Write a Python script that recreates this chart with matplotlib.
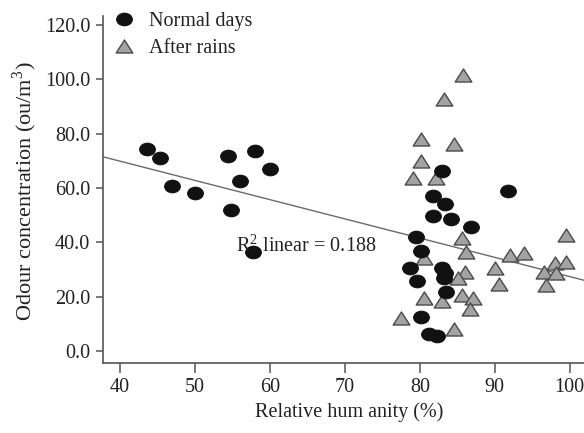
import matplotlib
matplotlib.use("Agg")
import matplotlib.pyplot as plt
import numpy as np
from matplotlib.path import Path
from matplotlib.lines import Line2D

# ---------------- data ----------------
normal_x = [43.6, 45.3, 46.9, 50.0, 54.4, 58.0, 60.0, 56.0, 54.8, 57.8,
            82.9, 91.8, 81.8, 83.3, 81.8, 84.2, 86.8, 79.5, 80.2, 78.7,
            82.9, 83.4, 83.2, 79.6, 83.5, 80.1, 81.2, 82.3]
normal_y = [74.2, 70.9, 60.7, 58.3, 71.8, 73.7, 67.0, 62.7, 51.9, 36.5,
            66.4, 58.9, 57.0, 54.1, 49.7, 48.6, 45.5, 42.1, 36.8, 30.7,
            30.4, 28.6, 26.8, 25.8, 21.8, 12.4, 6.3, 5.7]

rain_x = [85.7, 83.2, 80.2, 84.6, 80.2, 79.1, 82.1, 85.6, 86.2, 80.6,
          92.0, 93.9, 99.5, 90.0, 86.0, 85.1, 98.0, 99.5, 96.5, 98.1,
          96.8, 90.6, 80.6, 83.0, 85.6, 87.1, 86.7, 77.5, 84.5]
rain_y = [101.6, 92.6, 77.9, 76.2, 70.0, 63.6, 63.6, 41.6, 36.3, 34.1,
          35.3, 36.0, 42.7, 30.4, 29.2, 27.0, 32.5, 32.9, 29.2, 28.6,
          24.3, 24.7, 19.7, 18.4, 20.6, 19.4, 15.3, 12.0, 8.0]

fit_intercept = 98.2
fit_slope = -0.708
r2_text = "0.188"

x_ticks = [40, 50, 60, 70, 80, 90, 100]
y_ticks = [0, 20, 40, 60, 80, 100, 120]
legend_labels = ["Normal days", "After rains"]

# ---------------- style ----------------
plt.rcParams['font.family'] = ['Liberation Serif', 'DejaVu Serif']
plt.rcParams['mathtext.fontset'] = 'stix'

W, H = 584, 433
fig = plt.figure(figsize=(W / 100, H / 100), dpi=100)
left_px, right_px, top_px, bot_px = 102.7, 584, 16, 363
ax = fig.add_axes([left_px / W, 1 - bot_px / H, (right_px - left_px) / W, (bot_px - top_px) / H])

ax.set_xlim(37.7, 101.9)
ax.set_ylim(-4.4, 123.3)

ellipse = Path.unit_circle().transformed(matplotlib.transforms.Affine2D().scale(1.0, 0.8))
tri = Path([(0, 0.78), (-1, -0.78), (1, -0.78), (0, 0.78)],
           [Path.MOVETO, Path.LINETO, Path.LINETO, Path.CLOSEPOLY])

circ_kw = dict(marker=ellipse, markersize=11.3, markerfacecolor='#111111',
               markeredgecolor='#111111', markeredgewidth=0.8, linestyle='none')
tri_kw = dict(marker=tri, markersize=12.0, markerfacecolor='#a3a3a3',
              markeredgecolor='#4a4a4a', markeredgewidth=1.0, linestyle='none')

ax.plot(rain_x, rain_y, zorder=3, **tri_kw)
ax.plot(normal_x, normal_y, zorder=4, **circ_kw)

xl = np.array(ax.get_xlim())
ax.plot(xl, fit_intercept + fit_slope * xl, color='#6a6a6a', lw=1.0, zorder=2)

ax.text(55.5, 36.5, r"R$^{\mathregular{2}}$ linear = " + r2_text, fontsize=14.5,
        color='#222222', va='baseline', ha='left', zorder=5)

for s in ['top', 'right']:
    ax.spines[s].set_visible(False)
for s in ['left', 'bottom']:
    ax.spines[s].set_color('#555555')
    ax.spines[s].set_linewidth(1.2)

ax.set_xticks(x_ticks)
ax.set_yticks(y_ticks)
ax.set_yticklabels([f"{v:.1f}" for v in y_ticks])
ax.tick_params(axis='x', direction='out', length=7, width=1.1, color='#555555',
               labelsize=14.5, labelcolor='#222222', pad=4)
ax.tick_params(axis='y', direction='out', length=5, width=1.1, color='#555555',
               labelsize=14.5, labelcolor='#222222', pad=4)

ax.set_xlabel("Relative hum anity (%)", fontsize=14.5, color='#222222')
ax.xaxis.set_label_coords((349 - left_px) / (right_px - left_px), -(412 - bot_px) / (bot_px - top_px))
ax.xaxis.label.set_va('center')
ax.set_ylabel(r"Odour concentration (ou/m$^{\mathregular{3}}$)", fontsize=16, color='#222222')
ax.yaxis.set_label_coords(-(left_px - 25) / (right_px - left_px), (bot_px - 191) / (bot_px - top_px))
ax.yaxis.label.set_va('center')

handles = [Line2D([], [], **circ_kw), Line2D([], [], **tri_kw)]
ax.legend(handles, legend_labels, loc='upper left', frameon=False, fontsize=14.5,
          bbox_to_anchor=(113.6 / W, 1 - 12 / H), bbox_transform=fig.transFigure,
          borderpad=0, borderaxespad=0, handlelength=1.0, handletextpad=0.75,
          labelspacing=0.4, labelcolor='#222222')

fig.savefig("out.png", dpi=100)
